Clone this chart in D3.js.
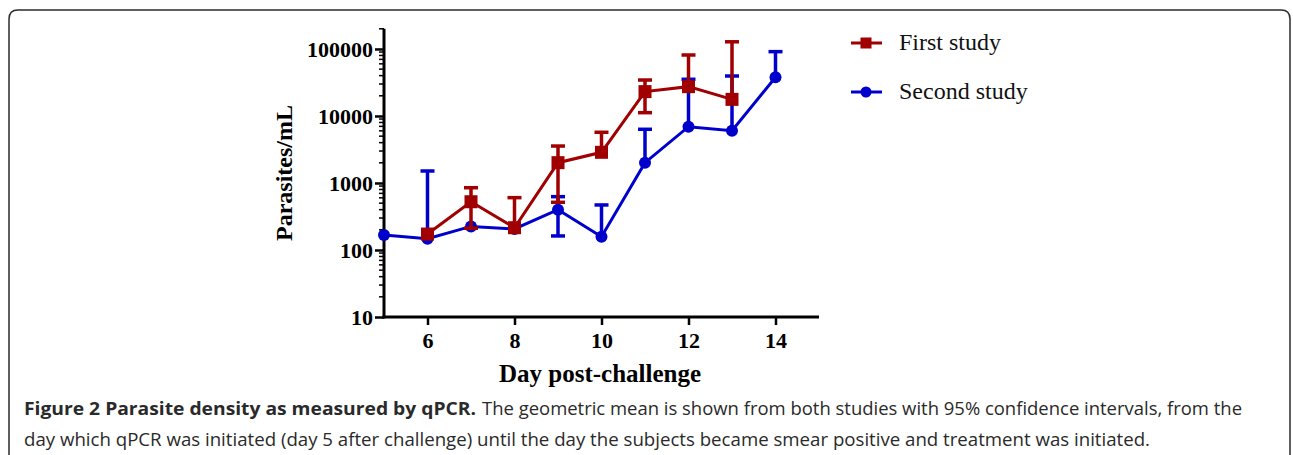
<!DOCTYPE html>
<html>
<head>
<meta charset="utf-8">
<script src="https://cdn.jsdelivr.net/npm/d3@7"></script>
<style>
  html, body { margin: 0; padding: 0; background: #fff; }
  svg { display: block; }
</style>
</head>
<body>
<div id="chart"></div>
<script>
// Geometric mean parasite density with 95% CI (null = bound not drawn)
const firstDays  = [6, 7, 8, 9, 10, 11, 12, 13];
const firstMean  = [173, 525, 215, 2010, 2870, 23100, 27400, 17700];
const firstLow   = [null, 211, null, 515, null, 11200, null, null];
const firstHigh  = [null, 850, 604, 3560, 5710, 34400, 81300, 128000];

const secondDays = [5, 6, 7, 8, 9, 10, 11, 12, 13, 14];
const secondMean = [167, 147, 225, 206, 400, 158, 2010, 6920, 6040, 37800];
const secondLow  = [null, null, null, null, 162, null, null, null, null, null];
const secondHigh = [null, 1510, null, null, 625, 470, 6330, 35300, 39500, 91200];

const xTicks = [6, 8, 10, 12, 14];
const yTicks = [10, 100, 1000, 10000, 100000];

const W = 1293, H = 455;
const RED = '#a00000', BLUE = '#0000cc';
const SERIF = '"Liberation Serif", "Times New Roman", serif';
const SANS = '"Open Sans", "Noto Sans", sans-serif';

const svg = d3.select('#chart').append('svg')
    .attr('width', W).attr('height', H);

// rounded figure frame (bottom runs off the page)
svg.append('path')
    .attr('d', 'M9,460 L9,19 Q9,10 18,10 L1281,10 Q1290,10 1290,19 L1290,460')
    .attr('fill', 'none').attr('stroke', '#2b2b2b').attr('stroke-width', 1.5);

const x = d3.scaleLinear().domain([5, 15]).range([384, 819]);
const y = d3.scaleLog().domain([10, 200000]).range([317, 28.8]);

const g = svg.append('g');

// Y axis with minor log ticks
const minor = [];
for (let k = 1; k <= 5; k++) {
    for (let m = 2; m <= 9; m++) {
        const v = m * Math.pow(10, k);
        if (v <= 200000) minor.push(v);
    }
}
const yAxis = g.append('g').attr('transform', 'translate(384,0)');
yAxis.call(d3.axisLeft(y).tickValues(yTicks).tickFormat(d3.format('d'))
    .tickSize(9).tickPadding(2));
yAxis.append('g').selectAll('line').data(minor).join('line')
    .attr('x1', 0).attr('x2', -5)
    .attr('y1', d => y(d)).attr('y2', d => y(d))
    .attr('stroke', '#000').attr('stroke-width', 1.5);

// X axis
const xAxis = g.append('g').attr('transform', 'translate(0,317)');
xAxis.call(d3.axisBottom(x).tickValues(xTicks).tickFormat(d3.format('d'))
    .tickSize(8).tickPadding(7));

[yAxis, xAxis].forEach(a => {
    a.select('.domain').attr('stroke', '#000').attr('stroke-width', 3);
    a.selectAll('.tick line').attr('stroke', '#000').attr('stroke-width', 2.5);
    a.selectAll('.tick text')
        .attr('fill', '#000')
        .style('font-family', SERIF)
        .style('font-weight', 'bold')
        .style('font-size', '22px');
});
// cut the path end-caps so axes meet cleanly
yAxis.select('.domain').attr('d', `M0,${y(200000)}V${y(10) + 1.5}`);
xAxis.select('.domain').attr('d', `M${x(5) - 1.5},0H${x(15)}`);

// axis titles
g.append('text')
    .attr('transform', `translate(292,${y(1000) - 10}) rotate(-90)`)
    .attr('text-anchor', 'middle')
    .style('font-family', SERIF).style('font-weight', 'bold').style('font-size', '24px')
    .text('Parasites/mL');

g.append('text')
    .attr('x', 600).attr('y', 382)
    .attr('text-anchor', 'middle')
    .style('font-family', SERIF).style('font-weight', 'bold').style('font-size', '25px')
    .text('Day post-challenge');

// series
function drawSeries(days, mean, low, high, color, shape) {
    const pts = days.map((d, i) => ({ d, v: mean[i], lo: low[i], hi: high[i] }));
    const sg = g.append('g');

    const line = d3.line().x(p => x(p.d)).y(p => y(p.v));
    sg.append('path').datum(pts)
        .attr('d', line)
        .attr('fill', 'none').attr('stroke', color).attr('stroke-width', 3);

    pts.forEach(p => {
        const cx = x(p.d);
        [p.hi, p.lo].forEach(b => {
            if (b == null) return;
            sg.append('line').attr('x1', cx).attr('x2', cx)
                .attr('y1', y(p.v)).attr('y2', y(b))
                .attr('stroke', color).attr('stroke-width', 3.5);
            sg.append('line').attr('x1', cx - 7).attr('x2', cx + 7)
                .attr('y1', y(b)).attr('y2', y(b))
                .attr('stroke', color).attr('stroke-width', 3.5);
        });
    });

    if (shape === 'square') {
        sg.selectAll('rect').data(pts).join('rect')
            .attr('x', p => x(p.d) - 6.5).attr('y', p => y(p.v) - 6.5)
            .attr('width', 13).attr('height', 13)
            .attr('fill', color);
    } else {
        sg.selectAll('circle').data(pts).join('circle')
            .attr('cx', p => x(p.d)).attr('cy', p => y(p.v))
            .attr('r', 6).attr('fill', color);
    }
}

drawSeries(secondDays, secondMean, secondLow, secondHigh, BLUE, 'circle');
drawSeries(firstDays, firstMean, firstLow, firstHigh, RED, 'square');

// legend
const legend = [
    { name: 'First study', color: RED, shape: 'square', y: 43 },
    { name: 'Second study', color: BLUE, shape: 'circle', y: 92 }
];
const lg = svg.append('g');
legend.forEach(l => {
    lg.append('line').attr('x1', 851).attr('x2', 882)
        .attr('y1', l.y).attr('y2', l.y)
        .attr('stroke', l.color).attr('stroke-width', 3);
    if (l.shape === 'square') {
        lg.append('rect').attr('x', 860.5).attr('y', l.y - 5.5)
            .attr('width', 11).attr('height', 11).attr('fill', l.color);
    } else {
        lg.append('circle').attr('cx', 866).attr('cy', l.y).attr('r', 5.5)
            .attr('fill', l.color);
    }
    lg.append('text')
        .attr('x', 899).attr('y', l.y + 7)
        .style('font-family', SERIF).style('font-size', '24px')
        .attr('fill', '#111')
        .text(l.name);
});

// caption
const cap = svg.append('g').attr('fill', '#2a2a2a').style('font-family', SANS).style('font-size', '18px');
cap.append('text')
    .attr('x', 24).attr('y', 415)
    .attr('textLength', 452).attr('lengthAdjust', 'spacingAndGlyphs')
    .style('font-weight', 'bold')
    .text('Figure 2 Parasite density as measured by qPCR.');
cap.append('text')
    .attr('x', 482).attr('y', 415)
    .attr('textLength', 760).attr('lengthAdjust', 'spacingAndGlyphs')
    .text('The geometric mean is shown from both studies with 95% confidence intervals, from the');
cap.append('text')
    .attr('x', 24).attr('y', 446)
    .attr('textLength', 1126).attr('lengthAdjust', 'spacingAndGlyphs')
    .text('day which qPCR was initiated (day 5 after challenge) until the day the subjects became smear positive and treatment was initiated.');
</script>
</body>
</html>
